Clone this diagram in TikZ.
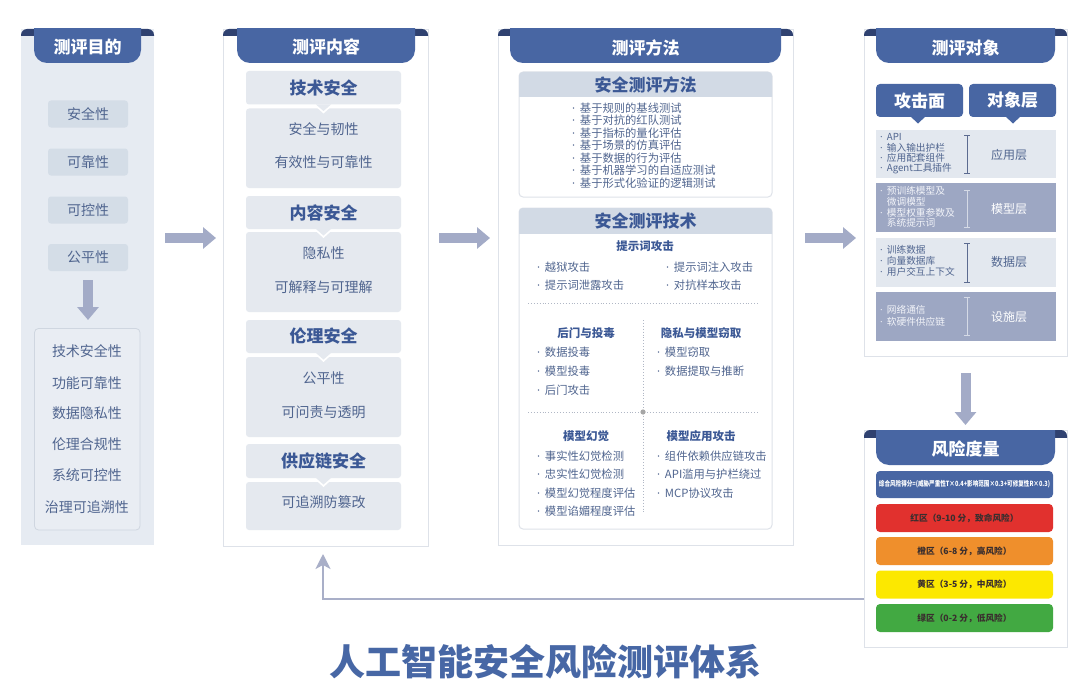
\documentclass[tikz,border=0pt]{standalone}
\usepackage{fontspec}
\usepackage{graphicx}
\setmainfont{Noto Sans CJK SC}
\newfontfamily\latinf{Noto Sans}
\usetikzlibrary{arrows.meta}
\definecolor{tabblue}{HTML}{4866A3}
\definecolor{tabdark}{HTML}{2F4170}
\definecolor{headtxt}{HTML}{3B5895}
\definecolor{itemtxt}{HTML}{50658F}
\definecolor{cbg}{HTML}{E6EBF2}
\definecolor{citem}{HTML}{D4DDE7}
\definecolor{lowbox}{HTML}{E9EDF3}
\definecolor{lowborder}{HTML}{CFD6E0}
\definecolor{secbg}{HTML}{E5E9EF}
\definecolor{methhead}{HTML}{D2DAE5}
\definecolor{rowlight}{HTML}{E3E8EF}
\definecolor{rowdark}{HTML}{9DA7C3}
\definecolor{arrowc}{HTML}{A3ABC7}
\definecolor{fbcol}{HTML}{A9AFC8}
\definecolor{pborder}{HTML}{DEE2E9}
\definecolor{dotc}{HTML}{B0B7C5}
\definecolor{zred}{HTML}{E1312E}
\definecolor{zorange}{HTML}{EF8F2C}
\definecolor{zyellow}{HTML}{FCE800}
\definecolor{zgreen}{HTML}{42A942}
\definecolor{ztxt}{HTML}{3A2E2E}
\definecolor{darkrowtxt}{HTML}{F2F4F9}
\definecolor{brkdark}{HTML}{5C6B90}
\definecolor{brklight}{HTML}{D5DAE6}
\definecolor{titlec}{HTML}{4767A5}
\newcommand\fsz[2]{\fontsize{#1}{#2}\selectfont}
\newcommand\bul{{\latinf ·}\hspace{0.42em}}
% #1 x1, #2 x2, #3 top, #4 tab x1, #5 tab x2, #6 tab bottom
\newcommand\paneltab[6]{%
  \begin{scope}
    \clip (#1,#3) rectangle (#2,#3+7);
    \fill[tabdark, rounded corners=6] (#1,#3) rectangle (#2,#3+20);
  \end{scope}
  \begin{scope}
    \clip (#4,#3) rectangle (#5,#6);
    \fill[tabblue, rounded corners=13] (#4,#3-20) rectangle (#5,#6);
  \end{scope}}
% section in column 2: #1 title top, #2 title bottom, #3 body top, #4 body bottom
\newcommand\secbox[4]{%
  \fill[secbg, rounded corners=3] (246,#3) rectangle (401,#4);
  \fill[white] (313.5,#2) -- (323.5,#2+9) -- (333.5,#2) -- cycle;
  \fill[secbg] (316,#2) -- (323.5,#2+6.5) -- (331,#2) -- cycle;
  \fill[secbg, rounded corners=3] (246,#1) rectangle (401,#2);}
\begin{document}
\begin{tikzpicture}[x=1pt,y=-1pt,
  c1item/.style={fill=citem, rounded corners=3, minimum width=80pt, minimum height=27pt, inner sep=0pt, text=itemtxt, font=\fsz{14}{16}},
  tabtxt/.style={text=white, font=\fsz{17}{20}\bfseries, inner sep=0pt},
  itm/.style={text=itemtxt, font=\fsz{14}{16}, inner sep=0pt},
  sectitle/.style={text=headtxt, font=\fsz{17}{20}\bfseries, inner sep=0pt},
  mlist/.style={anchor=west, text=itemtxt, font=\fsz{11.3}{13}, inner sep=0pt},
  qtitle/.style={text=headtxt, font=\fsz{11.5}{13}\bfseries, inner sep=0pt},
  rlist/.style={anchor=west, font=\fsz{9.7}{11}, inner sep=0pt},
  rlabel/.style={font=\fsz{12}{14}, inner sep=0pt},
  zone/.style={rounded corners=4, minimum width=177pt, minimum height=28pt, inner sep=0pt, font=\fsz{8.7}{10}\bfseries, text=ztxt},
  blockarrow/.style={draw=arrowc, line width=10pt, -{Triangle[width=21pt,length=13pt]}},
  dotline/.style={draw=dotc, dotted, line width=0.9pt},
  bracket/.style={line width=0.9pt}
]
\useasboundingbox (0,0) rectangle (1080,685);
\fill[white] (0,0) rectangle (1080,685);

% ================= Column 1 =================
\fill[cbg] (21,29) rectangle (154,545);
\paneltab{21}{154}{29}{34}{141}{63}
\node[tabtxt] (t1) at (87.5,47) {测评目的};
\node[c1item] (g1) at (88,114) {安全性};
\node[c1item] (g2) at (88,162) {可靠性};
\node[c1item] (g3) at (88,210) {可控性};
\node[c1item] (g4) at (88,257.5) {公平性};
\coordinate (d1s) at (88,280);
\coordinate (d1e) at (88,320);
\draw[blockarrow] (d1s) -- (d1e);
\draw[lowborder, fill=lowbox, rounded corners=4, line width=0.8pt] (34.5,328.5) rectangle (140,530);
\node[itm] (p1) at (87,351) {技术安全性};
\node[itm] (p2) at (87,383) {功能可靠性};
\node[itm] (p3) at (87,413) {数据隐私性};
\node[itm] (p4) at (87,444) {伦理合规性};
\node[itm] (p5) at (87,475) {系统可控性};
\node[itm] (p6) at (87,507) {治理可追溯性};

% arrow col1 -> col2
\coordinate (a1s) at (165,238);
\coordinate (a1e) at (216,238);
\draw[blockarrow] (a1s) -- (a1e);

% ================= Column 2 =================
\draw[pborder, fill=white, line width=0.8pt] (223,29) rectangle (428,546);
\paneltab{223}{428}{29}{237}{415}{63}
\node[tabtxt] (t2) at (326,47) {测评内容};
\secbox{71}{104.5}{108.5}{188}
\secbox{196}{229}{232}{312}
\secbox{320}{353}{357}{437}
\secbox{444}{478}{482}{530}
\node[sectitle] (s1) at (323.5,88) {技术安全};
\node[itm] (s1a) at (323.5,129) {安全与韧性};
\node[itm] (s1b) at (323.5,162) {有效性与可靠性};
\node[sectitle] (s2) at (323.5,212.5) {内容安全};
\node[itm] (s2a) at (323.5,253) {隐私性};
\node[itm] (s2b) at (323.5,287) {可解释与可理解};
\node[sectitle] (s3) at (323.5,336.5) {伦理安全};
\node[itm] (s3a) at (323.5,378) {公平性};
\node[itm] (s3b) at (323.5,412) {可问责与透明};
\node[sectitle] (s4) at (323.5,461) {供应链安全};
\node[itm] (s4a) at (323.5,502) {可追溯防篡改};

% arrow col2 -> col3
\coordinate (a2s) at (439,238);
\coordinate (a2e) at (490,238);
\draw[blockarrow] (a2s) -- (a2e);

% ================= Column 3 =================
\draw[pborder, fill=white, line width=0.8pt] (498,29) rectangle (793,545);
\paneltab{498}{793}{29}{510}{781}{63}
\node[tabtxt] (t3) at (645.5,48) {测评方法};
% method box
\draw[pborder, fill=white, rounded corners=4, line width=1pt] (519,72) rectangle (772,197);
\begin{scope}
  \clip (519,72) rectangle (772,97);
  \fill[methhead, rounded corners=4] (519,72) rectangle (772,110);
\end{scope}
\node[sectitle] (mh) at (645.5,85) {安全测评方法};
\node[mlist] (m1) at (572,108) {\bul 基于规则的基线测试};
\node[mlist] (m2) at (572,120.5) {\bul 基于对抗的红队测试};
\node[mlist] (m3) at (572,133) {\bul 基于指标的量化评估};
\node[mlist] (m4) at (572,145.5) {\bul 基于场景的仿真评估};
\node[mlist] (m5) at (572,158) {\bul 基于数据的行为评估};
\node[mlist] (m6) at (572,170.5) {\bul 基于机器学习的自适应测试};
\node[mlist] (m7) at (572,183) {\bul 基于形式化验证的逻辑测试};
% technique box
\draw[pborder, fill=white, rounded corners=4, line width=1pt] (519,208) rectangle (772,529);
\begin{scope}
  \clip (519,208) rectangle (772,233);
  \fill[methhead, rounded corners=4] (519,208) rectangle (772,246);
\end{scope}
\node[sectitle] (th) at (645.5,221) {安全测评技术};
\node[qtitle] (q0) at (645,246) {提示词攻击};
\node[mlist] (q0a) at (537,267) {\bul 越狱攻击};
\node[mlist] (q0b) at (666,267) {\bul 提示词注入攻击};
\node[mlist] (q0c) at (537,285) {\bul 提示词泄露攻击};
\node[mlist] (q0d) at (666,285) {\bul 对抗样本攻击};
\coordinate (h1l) at (528,303);
\coordinate (h1r) at (758,303);
\coordinate (h2l) at (528,412);
\coordinate (h2r) at (758,412);
\coordinate (vt) at (643,320);
\coordinate (vb) at (643,512);
\draw[dotline] (h1l) -- (h1r);
\draw[dotline] (h2l) -- (h2r);
\draw[dotline] (vt) -- (vb);
\fill[gray!70] (643,412) circle (2.6);
\node[qtitle] (q1) at (586,333) {后门与投毒};
\node[mlist] (q1a) at (537,352) {\bul 数据投毒};
\node[mlist] (q1b) at (537,371) {\bul 模型投毒};
\node[mlist] (q1c) at (537,390) {\bul 后门攻击};
\node[qtitle] (q2) at (701,333) {隐私与模型窃取};
\node[mlist] (q2a) at (657,352) {\bul 模型窃取};
\node[mlist] (q2b) at (657,371) {\bul 数据提取与推断};
\node[qtitle] (q3) at (586,436) {模型幻觉};
\node[mlist] (q3a) at (537,456) {\bul 事实性幻觉检测};
\node[mlist] (q3b) at (537,474.5) {\bul 忠实性幻觉检测};
\node[mlist] (q3c) at (537,493) {\bul 模型幻觉程度评估};
\node[mlist] (q3d) at (537,511.5) {\bul 模型谄媚程度评估};
\node[qtitle] (q4) at (701,436) {模型应用攻击};
\node[mlist] (q4a) at (657,456) {\bul 组件依赖供应链攻击};
\node[mlist] (q4b) at (657,474.5) {\bul API滥用与护栏绕过};
\node[mlist] (q4c) at (657,493) {\bul MCP协议攻击};

% arrow col3 -> col4
\coordinate (a3s) at (805,238);
\coordinate (a3e) at (856,238);
\draw[blockarrow] (a3s) -- (a3e);

% ================= Column 4 =================
\draw[pborder, fill=white, line width=0.8pt] (864,29) rectangle (1067,356);
\paneltab{864}{1067}{29}{876}{1055}{63}
\node[tabtxt] (t4) at (965.5,48) {测评对象};
\fill[tabblue, rounded corners=4] (876,84) rectangle (963,117);
\fill[tabblue] (910,116) -- (918,123.5) -- (926,116) -- cycle;
\fill[tabblue, rounded corners=4] (969,84) rectangle (1056,117);
\fill[tabblue] (1005,116) -- (1013,123.5) -- (1021,116) -- cycle;
\node[tabtxt] (o1) at (919.5,101) {攻击面};
\node[tabtxt] (o2) at (1012.5,100.5) {对象层};
% rows
\fill[rowlight] (876,130) rectangle (1056,178);
\fill[rowdark] (876,183) rectangle (1056,232);
\fill[rowlight] (876,238) rectangle (1056,287);
\fill[rowdark] (876,292) rectangle (1056,341);
\node[rlist, text=itemtxt] (r1a) at (880,137) {\bul API};
\node[rlist, text=itemtxt] (r1b) at (880,147.5) {\bul 输入输出护栏};
\node[rlist, text=itemtxt] (r1c) at (880,158) {\bul 应用配套组件};
\node[rlist, text=itemtxt] (r1d) at (880,168.5) {\bul Agent工具插件};
\node[rlabel, text=itemtxt] (l1) at (1009,155) {应用层};
\draw[bracket, brkdark] (964,135) -- (970,135) (967,135) -- (967,173) (964,173) -- (970,173);
\node[rlist, text=darkrowtxt] (r2a) at (880,191) {\bul 预训练模型及};
\node[rlist, text=darkrowtxt] (r2b) at (880,201.5) {\phantom{\bul}微调模型};
\node[rlist, text=darkrowtxt] (r2c) at (880,212.5) {\bul 模型权重参数及};
\node[rlist, text=darkrowtxt] (r2d) at (880,223) {\phantom{\bul}系统提示词};
\node[rlabel, text=white] (l2) at (1009,209) {模型层};
\draw[bracket, brklight] (964,190) -- (970,190) (967,190) -- (967,227) (964,227) -- (970,227);
\node[rlist, text=itemtxt] (r3a) at (880,250) {\bul 训练数据};
\node[rlist, text=itemtxt] (r3b) at (880,261) {\bul 向量数据库};
\node[rlist, text=itemtxt] (r3c) at (880,272) {\bul 用户交互上下文};
\node[rlabel, text=itemtxt] (l3) at (1009,262) {数据层};
\draw[bracket, brkdark] (964,243) -- (970,243) (967,243) -- (967,282) (964,282) -- (970,282);
\node[rlist, text=darkrowtxt] (r4a) at (880,310) {\bul 网络通信};
\node[rlist, text=darkrowtxt] (r4b) at (880,321.5) {\bul 软硬件供应链};
\node[rlabel, text=white] (l4) at (1009,317) {设施层};
\draw[bracket, brklight] (964,297) -- (970,297) (967,297) -- (967,335) (964,335) -- (970,335);

% arrow col4 -> risk
\coordinate (d2s) at (965.5,373);
\coordinate (d2e) at (965.5,425);
\draw[blockarrow] (d2s) -- (d2e);

% ================= Risk panel =================
\draw[pborder, fill=white, line width=0.8pt] (864,430) rectangle (1067,647);
\paneltab{864}{1067}{430}{876}{1055}{465}
\node[tabtxt] (t5) at (965.5,449) {风险度量};
\node[fill=tabblue, rounded corners=4, minimum width=177pt, minimum height=27pt, inner sep=0pt, text=white, font=\fsz{6.8}{8}\bfseries] (fm) at (964.5,484.5) {\scalebox{0.82}[1.05]{综合风险得分=(威胁严重性T×0.4+影响范围×0.3+可修复性R×0.3)}};
\node[zone, fill=zred] (zr) at (964.5,518) {红区（9-10 分，致命风险）};
\node[zone, fill=zorange] (zo) at (964.5,551) {橙区（6-8 分，高风险）};
\node[zone, fill=zyellow] (zy) at (964.5,584.5) {黄区（3-5 分，中风险）};
\node[zone, fill=zgreen] (zg) at (964.5,618) {绿区（0-2 分，低风险）};

% feedback connector
\coordinate (fbs) at (864,599);
\coordinate (fbc) at (323,599);
\coordinate (fbe) at (323,554);
\draw[fbcol, line width=1.8pt, -{Stealth[width=15pt,length=15pt,inset=4pt]}] (fbs) -- (fbc) -- (fbe);

% title
\node[text=titlec, font=\fsz{36}{42}\bfseries, inner sep=0pt] (title) at (545,662) {人工智能安全风险测评体系};
\end{tikzpicture}
\end{document}
